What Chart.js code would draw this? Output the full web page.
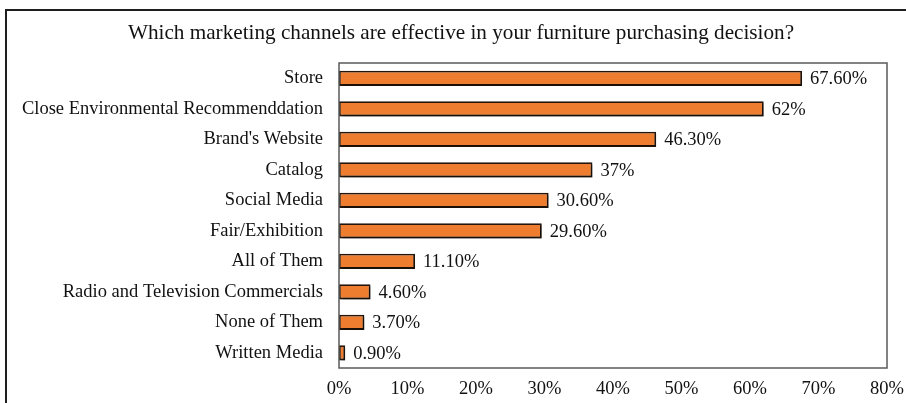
<!DOCTYPE html>
<html>
<head>
<meta charset="utf-8">
<script src="https://cdn.jsdelivr.net/npm/chart.js@4"></script>
<style>
  html, body { margin: 0; padding: 0; background: #fff; overflow: hidden; }
  #wrap { position: relative; width: 906px; height: 403px; }
  #frame { position: absolute; left: 5px; top: 9px; width: 920px; height: 420px; border: 2px solid #1e1e1e; box-sizing: border-box; pointer-events: none; }
  canvas { position: absolute; left: 0; top: 0; }
</style>
</head>
<body>
<div id="wrap">
  <canvas id="c" width="906" height="403"></canvas>
  <div id="frame"></div>
</div>
<script>
const titleText = "Which marketing channels are effective in your furniture purchasing decision?";
const categories = [
  "Store",
  "Close Environmental Recommenddation",
  "Brand's Website",
  "Catalog",
  "Social Media",
  "Fair/Exhibition",
  "All of Them",
  "Radio and Television Commercials",
  "None of Them",
  "Written Media"
];
const values = [67.6, 62, 46.3, 37, 30.6, 29.6, 11.1, 4.6, 3.7, 0.9];
const valueLabels = ["67.60%", "62%", "46.30%", "37%", "30.60%", "29.60%", "11.10%", "4.60%", "3.70%", "0.90%"];
const xTickValues = [0, 10, 20, 30, 40, 50, 60, 70, 80];

const FONT = "'Liberation Serif', 'Times New Roman', serif";

const shadowPlugin = {
  id: 'barShadow',
  beforeDatasetsDraw(chart) {
    const ctx = chart.ctx;
    ctx.save();
    ctx.shadowColor = 'rgba(0,0,0,0.35)';
    ctx.shadowOffsetX = 2;
    ctx.shadowOffsetY = 2;
    ctx.shadowBlur = 2;
  },
  afterDatasetsDraw(chart) {
    chart.ctx.restore();
  }
};

const boxPlugin = {
  id: 'plotBox',
  afterDraw(chart) {
    const { ctx, chartArea: a } = chart;
    ctx.save();
    ctx.strokeStyle = '#5a5a5a';
    ctx.lineWidth = 1.5;
    ctx.strokeRect(a.left, a.top, a.right - a.left, a.bottom - a.top);
    ctx.restore();
  }
};

const titlePlugin = {
  id: 'customTitle',
  afterDraw(chart) {
    const ctx = chart.ctx;
    ctx.save();
    ctx.font = "21.2px " + FONT;
    ctx.fillStyle = '#111';
    ctx.textAlign = 'center';
    ctx.textBaseline = 'middle';
    ctx.fillText(titleText, 461, 33);
    ctx.restore();
  }
};

const labelPlugin = {
  id: 'valueLabels',
  afterDatasetsDraw(chart) {
    const ctx = chart.ctx;
    const meta = chart.getDatasetMeta(0);
    ctx.save();
    ctx.font = "18.5px " + FONT;
    ctx.fillStyle = '#111';
    ctx.textAlign = 'left';
    ctx.textBaseline = 'middle';
    meta.data.forEach((bar, i) => {
      ctx.fillText(valueLabels[i], bar.x + 8, bar.y + 1);
    });
    ctx.restore();
  }
};

new Chart(document.getElementById('c'), {
  type: 'bar',
  data: {
    labels: categories,
    datasets: [{
      data: values,
      backgroundColor: '#EF7D2F',
      borderColor: '#24160c',
      borderWidth: 1.8,
      borderSkipped: false,
      barPercentage: 0.5,
      categoryPercentage: 1.0
    }]
  },
  options: {
    indexAxis: 'y',
    responsive: false,
    animation: false,
    devicePixelRatio: 1,
    layout: { padding: { left: 4, right: 19, top: 63, bottom: 0 } },
    plugins: {
      legend: { display: false },
      tooltip: { enabled: false },
      title: { display: false }
    },
    scales: {
      x: {
        min: 0,
        max: 80,
        afterBuildTicks(scale) { scale.ticks = xTickValues.map(v => ({ value: v })); },
        afterFit(scale) { scale.height = 35; scale.paddingLeft = 0; scale.paddingRight = 0; },
        grid: { display: false, drawTicks: false },
        border: { display: false },
        ticks: {
          color: '#111',
          font: { family: FONT, size: 18.5 },
          padding: 10,
          maxRotation: 0,
          callback: v => v + '%'
        }
      },
      y: {
        grid: { display: false, drawTicks: false },
        border: { display: false },
        afterFit(scale) { scale.width = 335; scale.paddingTop = 0; scale.paddingBottom = 0; },
        ticks: {
          color: '#111',
          font: { family: FONT, size: 18.5 },
          padding: 16,
          autoSkip: false
        }
      }
    }
  },
  plugins: [shadowPlugin, labelPlugin, boxPlugin, titlePlugin]
});
</script>
</body>
</html>
